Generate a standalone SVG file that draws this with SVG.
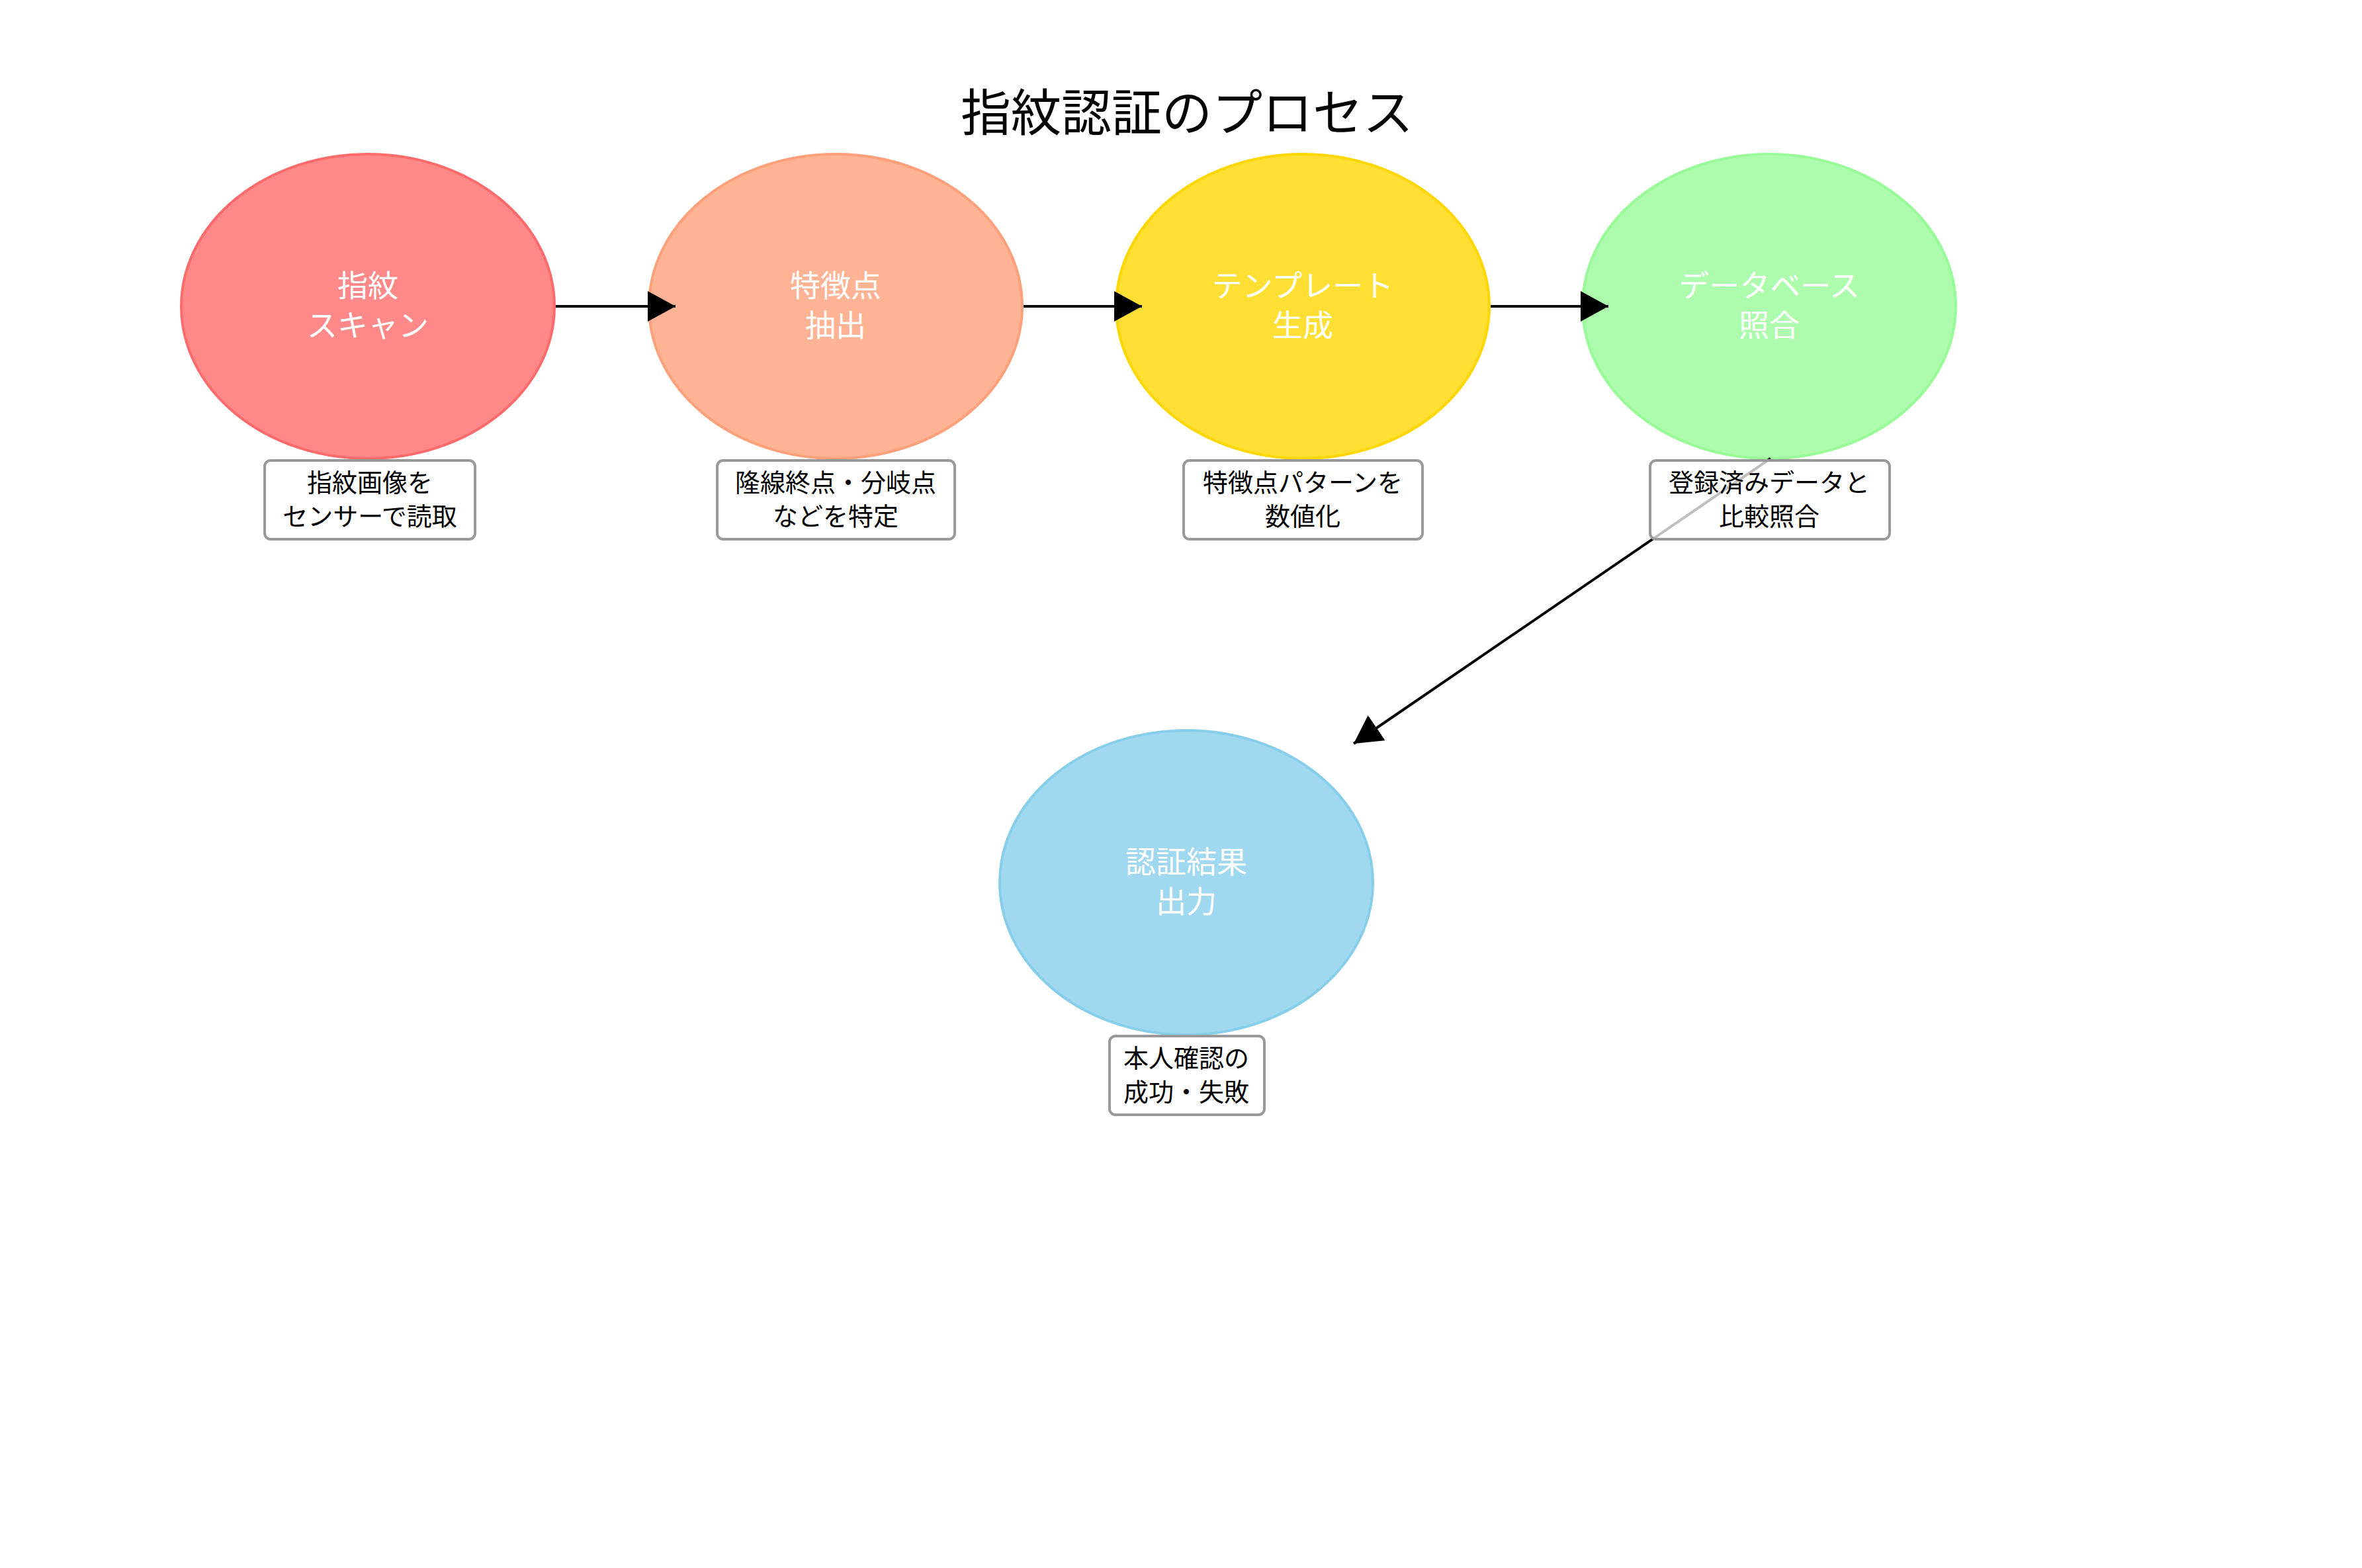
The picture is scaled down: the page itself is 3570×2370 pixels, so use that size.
<svg xmlns="http://www.w3.org/2000/svg" width="3570" height="2370" viewBox="0 0 3570 2370">
<style>
text{font-family:"Noto Sans CJK JP","Noto Sans",sans-serif;text-anchor:middle;dominant-baseline:central}
.n{stroke-width:4;fill-opacity:0.8}
.nt{fill:#fff;font-size:46px}
.lb{fill:#fff;fill-opacity:0.75;stroke:#999;stroke-width:4}
.lt{fill:#000;font-size:38px}
.c{stroke:#000;stroke-width:4;fill:none;marker-end:url(#ah)}
</style>
<defs>
<marker id="ah" markerUnits="userSpaceOnUse" markerWidth="42" markerHeight="46" refX="42" refY="23" orient="auto">
<path d="M0,0 L42,23 L0,46 Z" fill="#000"/>
</marker>
</defs>
<rect width="3570" height="2370" fill="#fff"/>
<text x="1794" y="165" font-size="76" fill="#000">指紋認証のプロセス</text>
<g id="n1"><ellipse class="n" cx="556" cy="463" rx="282" ry="230" fill="#FF6B6B" stroke="#FF6B6B"/>
<text class="nt" x="556" y="428">指紋</text><text class="nt" x="556" y="488">スキャン</text></g>
<g id="n2"><ellipse class="n" cx="1263" cy="463" rx="282" ry="230" fill="#FFA07A" stroke="#FFA07A"/>
<text class="nt" x="1263" y="428">特徴点</text><text class="nt" x="1263" y="488">抽出</text></g>
<g id="n3"><ellipse class="n" cx="1969" cy="463" rx="282" ry="230" fill="#FFD700" stroke="#FFD700"/>
<text class="nt" x="1969" y="428">テンプレート</text><text class="nt" x="1969" y="488">生成</text></g>
<g id="n4"><ellipse class="n" cx="2674" cy="463" rx="282" ry="230" fill="#98FB98" stroke="#98FB98"/>
<text class="nt" x="2674" y="428">データベース</text><text class="nt" x="2674" y="488">照合</text></g>
<g id="n5"><ellipse class="n" cx="1793" cy="1334" rx="282" ry="230" fill="#87CEEB" stroke="#87CEEB"/>
<text class="nt" x="1793" y="1299">認証結果</text><text class="nt" x="1793" y="1359">出力</text></g>
<g id="connectors">
<line class="c" x1="840" y1="463" x2="1021" y2="463"/>
<line class="c" x1="1547" y1="463" x2="1726" y2="463"/>
<line class="c" x1="2253" y1="463" x2="2431" y2="463"/>
<line class="c" x1="2676" y1="693" x2="2046" y2="1124"/>
</g>
<g id="l1"><rect class="lb" x="400" y="696" width="318" height="119" rx="9"/>
<text class="lt" x="559" y="726">指紋画像を</text><text class="lt" x="559" y="777">センサーで読取</text></g>
<g id="l2"><rect class="lb" x="1084" y="696" width="359" height="119" rx="9"/>
<text class="lt" x="1263" y="726">隆線終点・分岐点</text><text class="lt" x="1263" y="777">などを特定</text></g>
<g id="l3"><rect class="lb" x="1789" y="696" width="361" height="119" rx="9"/>
<text class="lt" x="1969" y="726">特徴点パターンを</text><text class="lt" x="1969" y="777">数値化</text></g>
<g id="l4"><rect class="lb" x="2494" y="696" width="362" height="119" rx="9"/>
<text class="lt" x="2674" y="726">登録済みデータと</text><text class="lt" x="2674" y="777">比較照合</text></g>
<g id="l5"><rect class="lb" x="1677" y="1566" width="234" height="119" rx="9"/>
<text class="lt" x="1793" y="1596">本人確認の</text><text class="lt" x="1793" y="1647">成功・失敗</text></g>
</svg>
